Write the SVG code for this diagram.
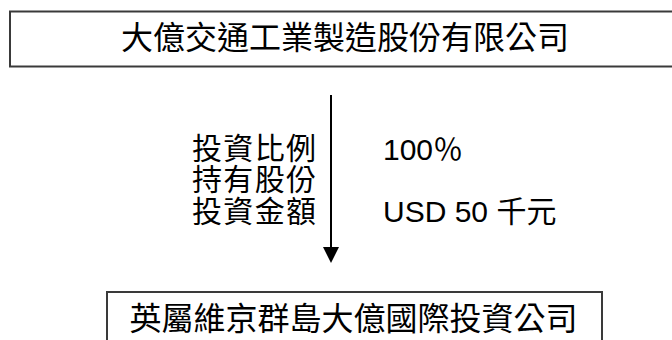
<svg xmlns="http://www.w3.org/2000/svg" width="672" height="340" viewBox="0 0 672 340">
<style>
.box{fill:#fff;stroke:#3a3a3a;stroke-width:2}
.cjk{font-family:"Noto Sans CJK TC","Noto Sans CJK SC",sans-serif;fill:#000}
.lat{font-family:"Liberation Sans","Noto Sans CJK TC",sans-serif;fill:#000}
</style>
<rect width="672" height="340" fill="#fff"/>
<g id="parent">
<rect class="box" x="10" y="11.5" width="680" height="55"/>
<text class="cjk" x="345" y="49" font-size="32" text-anchor="middle">大億交通工業製造股份有限公司</text>
</g>
<g id="connectors">
<line x1="331" y1="95" x2="331" y2="249" stroke="#000" stroke-width="2"/>
<polygon points="323,247 339,247 331,263" fill="#000"/>
</g>
<g id="labels">
<text class="cjk" font-size="30"><tspan x="192" y="159" textLength="124" lengthAdjust="spacing">投資比例</tspan><tspan x="192" y="190" textLength="124" lengthAdjust="spacing">持有股份</tspan><tspan x="192" y="222" textLength="124" lengthAdjust="spacing">投資金額</tspan></text>
<text class="lat" x="383" y="160" font-size="30">100<tspan class="cjk">％</tspan></text>
<text class="lat" x="383" y="222" font-size="30">USD 50 <tspan class="cjk">千元</tspan></text>
</g>
<g id="child">
<rect class="box" x="107" y="292" width="495" height="60"/>
<text class="cjk" x="353.5" y="330" font-size="32" text-anchor="middle">英屬維京群島大億國際投資公司</text>
</g>
</svg>
